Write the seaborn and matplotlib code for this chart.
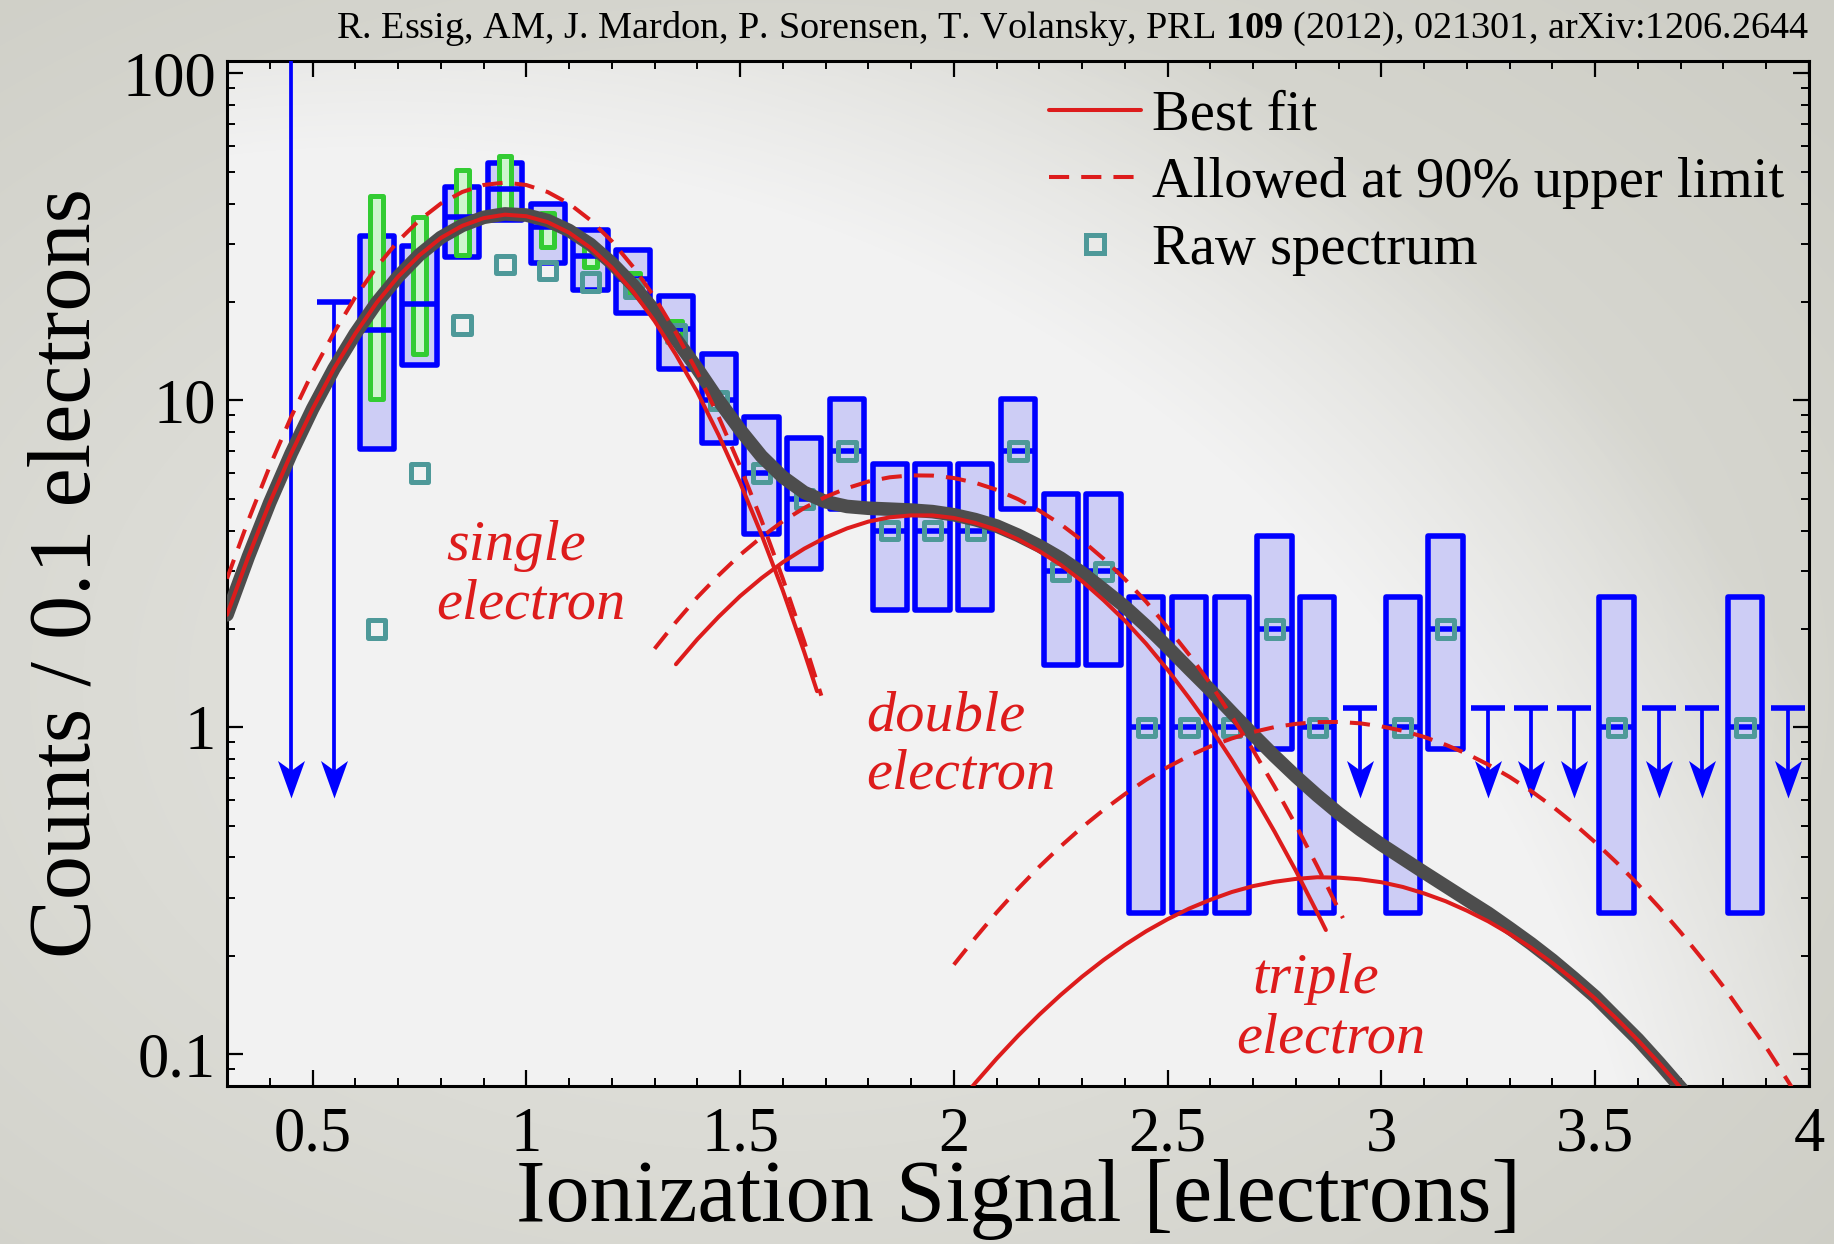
import numpy as np
import matplotlib
matplotlib.use("Agg")
import matplotlib.pyplot as plt
import matplotlib.font_manager as fm
from matplotlib.path import Path
from matplotlib.lines import Line2D
from matplotlib.ticker import MultipleLocator, FixedLocator, FuncFormatter, NullFormatter, LogLocator
import seaborn as sns

sns.set_theme(style="ticks")
_names = {f.name for f in fm.fontManager.ttflist}
SERIF = next((n for n in ["Liberation Serif", "Tinos", "Nimbus Roman", "DejaVu Serif"] if n in _names),
             "serif")
plt.rcParams["font.family"] = [SERIF, "DejaVu Serif"]
plt.rcParams["mathtext.fontset"] = "custom"
plt.rcParams["mathtext.rm"] = SERIF
plt.rcParams["mathtext.bf"] = SERIF + ":bold"
plt.rcParams["text.color"] = "black"
plt.rcParams["axes.labelcolor"] = "black"

# ---------------- data ----------------
# corrected spectrum: bin centre, central value, band low, band high
corr_x   = [0.65, 0.75, 0.85, 0.95, 1.05, 1.15, 1.25, 1.35, 1.45, 1.55, 1.65, 1.75, 1.85, 1.95,
            2.05, 2.15, 2.25, 2.35, 2.45, 2.55, 2.65, 2.75, 2.85, 3.05, 3.15, 3.55, 3.85]
corr_mid = [16.4, 19.7, 36.5, 44.2, 33.9, 27.6, 23.5, 16.5, 10.0, 6.0, 5.0, 7.0, 4.0, 4.0,
            4.0, 7.0, 3.0, 3.0, 1.0, 1.0, 1.0, 2.0, 1.0, 1.0, 2.0, 1.0, 1.0]
corr_lo  = [7.1, 12.8, 27.4, 35.6, 26.4, 21.8, 18.5, 12.5, 7.4, 3.9, 3.06, 4.65, 2.29, 2.29,
            2.29, 4.65, 1.55, 1.55, 0.27, 0.27, 0.27, 0.86, 0.27, 0.27, 0.86, 0.27, 0.27]
corr_hi  = [31.8, 29.6, 45.0, 53.1, 39.9, 33.2, 28.8, 20.8, 13.9, 8.9, 7.65, 10.1, 6.41, 6.41,
            6.41, 10.1, 5.16, 5.16, 2.5, 2.5, 2.5, 3.85, 2.5, 2.5, 3.85, 2.5, 2.5]

# secondary (green) bands
alt_x  = [0.65, 0.75, 0.85, 0.95, 1.05, 1.15, 1.25, 1.35]
alt_lo = [10.1, 13.9, 27.8, 36.5, 29.5, 25.6, 21.5, 15.3]
alt_hi = [42.2, 36.3, 50.7, 55.9, 37.5, 29.8, 24.5, 17.5]

# raw spectrum counts
raw_x = [0.65, 0.75, 0.85, 0.95, 1.05, 1.15, 1.25, 1.35, 1.45, 1.55, 1.65, 1.75, 1.85, 1.95,
         2.05, 2.15, 2.25, 2.35, 2.45, 2.55, 2.65, 2.75, 2.85, 3.05, 3.15, 3.55, 3.85]
raw_y = [2, 6, 17, 26, 25, 23, 22, 16, 10, 6, 5, 7, 4, 4,
         4, 7, 3, 3, 1, 1, 1, 2, 1, 1, 2, 1, 1]

# upper limits
ul_x = [0.45, 0.55, 2.95, 3.25, 3.35, 3.45, 3.65, 3.75, 3.95]
ul_y = [200.0, 20.0, 1.15, 1.15, 1.15, 1.15, 1.15, 1.15, 1.15]
ul_arrow_tip = 0.61

# best-fit components
single_x = [0.30, 0.35, 0.40, 0.45, 0.50, 0.55, 0.60, 0.65, 0.70, 0.75, 0.80, 0.85, 0.90, 0.95,
            1.00, 1.05, 1.10, 1.15, 1.20, 1.25, 1.30, 1.35, 1.40, 1.45, 1.50, 1.55, 1.60, 1.65, 1.68]
single_y = [2.21, 3.33, 4.87, 6.88, 9.41, 12.5, 16.0, 19.9, 23.9, 27.8, 31.4, 34.2, 36.1, 37.0,
            36.6, 35.1, 32.6, 29.3, 25.5, 21.5, 17.5, 13.8, 10.6, 7.83, 5.61, 3.89, 2.62, 1.70, 1.29]

double_x = [1.35, 1.40, 1.45, 1.50, 1.55, 1.60, 1.65, 1.70, 1.75, 1.80, 1.85, 1.90, 1.95, 2.00,
            2.05, 2.10, 2.15, 2.20, 2.25, 2.30, 2.35, 2.40, 2.45, 2.50, 2.55, 2.60, 2.65, 2.70,
            2.75, 2.80, 2.85, 2.87]
double_y = [1.56, 1.86, 2.18, 2.52, 2.86, 3.20, 3.52, 3.81, 4.06, 4.26, 4.39, 4.45, 4.45, 4.37,
            4.22, 4.02, 3.76, 3.46, 3.14, 2.80, 2.45, 2.12, 1.80, 1.50, 1.23, 1.00, 0.795, 0.623,
            0.480, 0.364, 0.271, 0.240]

triple_x = [2.00, 2.05, 2.10, 2.15, 2.20, 2.25, 2.30, 2.35, 2.40, 2.45, 2.50, 2.55, 2.60, 2.65,
            2.70, 2.75, 2.80, 2.85, 2.90, 2.95, 3.00, 3.05, 3.10, 3.15, 3.20, 3.25, 3.30, 3.35,
            3.40, 3.45, 3.50, 3.55, 3.60, 3.65, 3.70, 3.75]
triple_y = [0.0681, 0.0817, 0.0970, 0.1139, 0.1323, 0.152, 0.1728, 0.1943, 0.2162, 0.238, 0.259,
            0.279, 0.297, 0.3136, 0.327, 0.337, 0.344, 0.348, 0.347, 0.343, 0.336, 0.325, 0.3105,
            0.294, 0.275, 0.255, 0.2336, 0.2118, 0.190, 0.1686, 0.148, 0.1285, 0.1104, 0.0938,
            0.0789, 0.0656]

total_x = [0.30, 0.35, 0.40, 0.45, 0.50, 0.55, 0.60, 0.65, 0.70, 0.75, 0.80, 0.85, 0.90, 0.95,
           1.00, 1.05, 1.10, 1.15, 1.20, 1.25, 1.30, 1.35, 1.40, 1.45, 1.50, 1.55, 1.60, 1.65,
           1.70, 1.75, 1.80, 1.85, 1.90, 1.95, 2.00, 2.05, 2.10, 2.15, 2.20, 2.25, 2.30, 2.35,
           2.40, 2.45, 2.50, 2.55, 2.60, 2.65, 2.70, 2.75, 2.80, 2.85, 2.90, 2.95, 3.00, 3.05,
           3.10, 3.15, 3.20, 3.25, 3.30, 3.35, 3.40, 3.45, 3.50, 3.55, 3.60, 3.65, 3.70, 3.75]
total_y = [2.21, 3.33, 4.87, 6.88, 9.42, 12.5, 16.0, 19.9, 23.9, 27.9, 31.5, 34.3, 36.3, 37.2,
           36.9, 35.5, 33.1, 30.0, 26.3, 22.5, 18.8, 15.4, 12.5, 10.0, 8.13, 6.75, 5.83, 5.23,
           4.90, 4.74, 4.68, 4.65, 4.62, 4.57, 4.47, 4.32, 4.13, 3.87, 3.59, 3.29, 2.97, 2.64,
           2.34, 2.04, 1.76, 1.51, 1.30, 1.11, 0.950, 0.817, 0.708, 0.619, 0.546, 0.487, 0.438, 0.397,
           0.360, 0.327, 0.297, 0.270, 0.243, 0.218, 0.194, 0.171, 0.150, 0.129, 0.111, 0.094,
           0.079, 0.066]

# components allowed at the 90% upper limit
single90_x = [0.30, 0.35, 0.40, 0.45, 0.50, 0.55, 0.60, 0.65, 0.70, 0.75, 0.80, 0.85, 0.90, 0.95,
              1.00, 1.05, 1.10, 1.15, 1.20, 1.25, 1.30, 1.35, 1.40, 1.45, 1.50, 1.55, 1.60, 1.65, 1.69]
single90_y = [2.85, 4.30, 6.29, 8.90, 12.2, 16.1, 20.7, 25.6, 30.7, 35.6, 40.0, 43.4, 45.6, 46.4,
              45.6, 43.4, 40.0, 35.6, 30.7, 25.6, 20.7, 16.1, 12.2, 8.90, 6.29, 4.30, 2.85, 1.83, 1.25]

double90_x = [1.30, 1.35, 1.40, 1.45, 1.50, 1.55, 1.60, 1.65, 1.70, 1.75, 1.80, 1.85, 1.90, 1.95,
              2.00, 2.05, 2.10, 2.15, 2.20, 2.25, 2.30, 2.35, 2.40, 2.45, 2.50, 2.55, 2.60, 2.65,
              2.70, 2.75, 2.80, 2.85, 2.91]
double90_y = [1.74, 2.10, 2.50, 2.92, 3.37, 3.82, 4.27, 4.69, 5.07, 5.39, 5.65, 5.82, 5.90, 5.89,
              5.79, 5.60, 5.33, 4.99, 4.60, 4.18, 3.73, 3.28, 2.84, 2.42, 2.02, 1.67, 1.36, 1.08,
              0.851, 0.659, 0.502, 0.376, 0.261]

triple90_x = [2.00, 2.05, 2.10, 2.15, 2.20, 2.25, 2.30, 2.35, 2.40, 2.45, 2.50, 2.55, 2.60, 2.65,
              2.70, 2.75, 2.80, 2.85, 2.90, 2.95, 3.00, 3.05, 3.10, 3.15, 3.20, 3.25, 3.30, 3.35,
              3.40, 3.45, 3.50, 3.55, 3.60, 3.65, 3.70, 3.75, 3.80, 3.85, 3.90, 3.95, 4.00]
triple90_y = [0.188, 0.227, 0.2715, 0.321, 0.375, 0.433, 0.495, 0.559, 0.625, 0.692, 0.756, 0.818,
              0.875, 0.925, 0.968, 1.002, 1.025, 1.038, 1.039, 1.029, 1.007, 0.976, 0.935, 0.885,
              0.830, 0.769, 0.705, 0.639, 0.573, 0.508, 0.445, 0.386, 0.331, 0.281, 0.236, 0.196,
              0.161, 0.130, 0.105, 0.0831, 0.0652]

x_ticks = [0.5, 1.0, 1.5, 2.0, 2.5, 3.0, 3.5, 4.0]
y_ticks = [0.1, 1, 10, 100]

# ---------------- style ----------------
BLUE = "#0000ff"
BLUE_FILL = "#cdcdf5"
GREEN = "#33cc33"
GREEN_FILL = "#cff5cf"
TEAL = "#4e9999"
RED = "#dd1c1c"
GREY = "#4d4d4d"
BOX_W = 0.08
ALT_W = 0.03
BOX_LW = 4.0

W, H = 1834, 1244
fig = plt.figure(figsize=(W / 100, H / 100), dpi=100)

# slide background with a soft vignette
bg = fig.add_axes([0, 0, 1, 1], zorder=-5)
gy, gx = np.mgrid[0:H, 0:W]
rr = np.sqrt(((gx - 0.42 * W) / (0.75 * W)) ** 2 + ((gy - 0.55 * H) / (0.75 * H)) ** 2)
c_in = np.array([232, 232, 228]) / 255
c_out = np.array([206, 206, 198]) / 255
t = np.clip(rr, 0, 1)[..., None]
bg.imshow(c_in * (1 - t) + c_out * t, extent=(0, 1, 0, 1), aspect="auto", origin="upper")
bg.axis("off")

L, R, T, B = 227, 1809, 61, 1086
ax = fig.add_axes([L / W, 1 - B / H, (R - L) / W, (B - T) / H])
ax.set_facecolor("none")
ax.set_yscale("log")

# light panel inside the axes fading towards the upper right
aw, ah = R - L, B - T
py, px = np.mgrid[0:ah, 0:aw]
py = ah - py
rp = np.sqrt((px - 150) ** 2 + (py + 350) ** 2)
alpha = np.clip((1620 - rp) / 330, 0, 1)
panel = np.zeros((ah, aw, 4))
panel[..., :3] = 242 / 255
panel[..., 3] = alpha
ax.imshow(panel, extent=(0, 1, 0, 1), transform=ax.transAxes, aspect="auto",
          origin="upper", zorder=0)

# corrected spectrum bands
lo = np.array(corr_lo)
hi = np.array(corr_hi)
ax.bar(corr_x, hi - lo, bottom=lo, width=BOX_W, color=BLUE_FILL, edgecolor=BLUE,
       linewidth=BOX_LW, zorder=2, joinstyle="round")
alo = np.array(alt_lo)
ahi = np.array(alt_hi)
ax.bar(alt_x, ahi - alo, bottom=alo, width=ALT_W, color=GREEN_FILL, edgecolor=GREEN,
       linewidth=3.6, zorder=3, joinstyle="round")
cx = np.array(corr_x)
ax.hlines(corr_mid, cx - BOX_W / 2, cx + BOX_W / 2, color=BLUE, linewidth=BOX_LW, zorder=3.5)

# upper limits with arrows
ux = np.array(ul_x)
ax.hlines(ul_y, ux - BOX_W / 2, ux + BOX_W / 2, color=BLUE, linewidth=BOX_LW, zorder=3)
ax.vlines(ul_x, [ul_arrow_tip * 1.12] * len(ul_x), ul_y, color=BLUE, linewidth=2.7, zorder=3)
head = Path([(0, 0), (0.36, 1.0), (0, 0.74), (-0.36, 1.0), (0, 0)],
            [Path.MOVETO, Path.LINETO, Path.LINETO, Path.LINETO, Path.CLOSEPOLY])
ax.scatter(ul_x, [ul_arrow_tip] * len(ul_x), marker=head, s=54 ** 2, color=BLUE,
           linewidths=0, zorder=3.2)

# raw spectrum
sns.scatterplot(x=raw_x, y=raw_y, ax=ax, marker="s", s=12.5 ** 2, facecolor="none",
                edgecolor=TEAL, linewidth=3.6, zorder=4, legend=False)

# fit curves
sns.lineplot(x=total_x, y=total_y, ax=ax, color=GREY, linewidth=9.8, zorder=5,
             sort=False, estimator=None)
for xs, ys in [(single_x, single_y), (double_x, double_y), (triple_x, triple_y)]:
    sns.lineplot(x=xs, y=ys, ax=ax, color=RED, linewidth=2.9, zorder=6,
                 sort=False, estimator=None)
for xs, ys in [(single90_x, single90_y), (double90_x, double90_y), (triple90_x, triple90_y)]:
    sns.lineplot(x=xs, y=ys, ax=ax, color=RED, linewidth=2.9, zorder=6,
                 sort=False, estimator=None, dashes=False, linestyle=(0, (5, 3)))

# component labels
lab = dict(color=RED, fontsize=42, style="italic", ha="center", va="center", zorder=7)
ax.text(0.975, 3.58, "single", **lab)
ax.text(1.01, 2.37, "electron", **lab)
ax.text(1.98, 1.08, "double", **lab)
ax.text(2.016, 0.72, "electron", **lab)
ax.text(2.846, 0.170, "triple", **lab)
ax.text(2.882, 0.112, "electron", **lab)

# axes
ax.set_xlim(0.3, 4.0)
ax.set_ylim(0.080, 109.2)
ax.xaxis.set_major_locator(FixedLocator(x_ticks))
ax.xaxis.set_minor_locator(MultipleLocator(0.1))
ax.xaxis.set_major_formatter(FuncFormatter(lambda v, p: f"{v:g}"))
ax.yaxis.set_major_locator(FixedLocator(y_ticks))
ax.yaxis.set_minor_locator(LogLocator(base=10, subs=np.arange(2, 10)))
ax.yaxis.set_minor_formatter(NullFormatter())
ax.yaxis.set_major_formatter(FuncFormatter(lambda v, p: f"{v:g}"))
ax.tick_params(axis="both", which="major", direction="in", length=11.5, width=1.6,
               top=True, right=True, labelsize=45, colors="black")
ax.tick_params(axis="x", which="major", pad=15)
ax.tick_params(axis="y", which="major", pad=8)
ax.tick_params(axis="both", which="minor", direction="in", length=5.8, width=1.4,
               top=True, right=True, colors="black")
for s in ax.spines.values():
    s.set_linewidth(2.2)
    s.set_color("black")

ax.set_xlabel("Ionization Signal [electrons]", fontsize=63.5, labelpad=-4, color="black")
ax.set_ylabel("Counts / 0.1 electrons", fontsize=63.5, labelpad=10, color="black")

handles = [Line2D([], [], color=RED, linewidth=2.9),
           Line2D([], [], color=RED, linewidth=2.9, linestyle=(0, (5, 3))),
           Line2D([], [], linestyle="none", marker="s", markersize=12.5,
                  markerfacecolor="none", markeredgecolor=TEAL, markeredgewidth=3.6)]
leg = ax.legend(handles, ["Best fit", "Allowed at 90% upper limit", "Raw spectrum"],
                loc="upper left", bbox_to_anchor=(0.5196, 0.972), frameon=False, fontsize=40.8,
                handlelength=1.62, handletextpad=0.2, labelspacing=0.27, borderaxespad=0,
                borderpad=0)
for txt in leg.get_texts():
    txt.set_color("black")

fig.text(R / W, 1 - 38 / H,
         r"R. Essig, AM, J. Mardon, P. Sorensen, T. Volansky, PRL $\mathbf{109}$ (2012), 021301, arXiv:1206.2644",
         ha="right", va="baseline", fontsize=27.5, color="black")

fig.savefig("out.png", dpi=100)
